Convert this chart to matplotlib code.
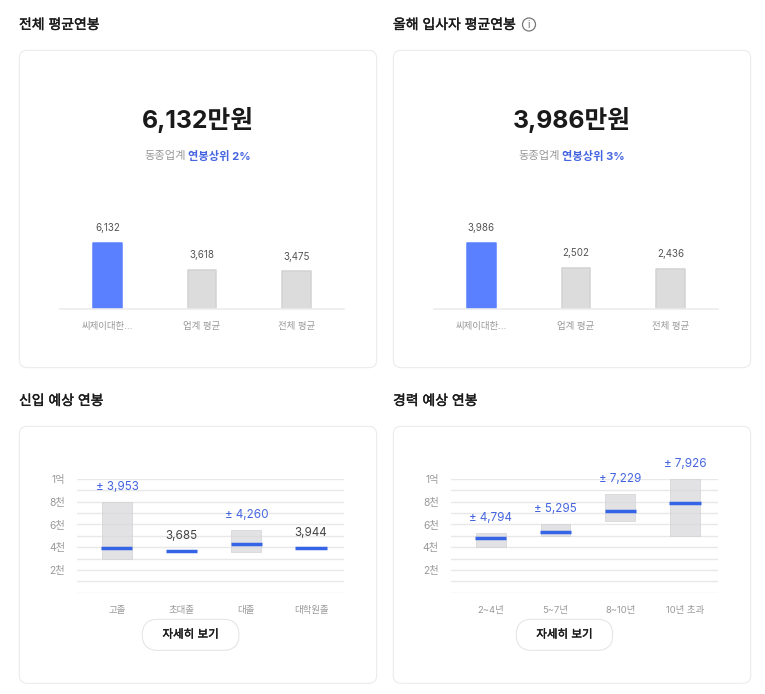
import matplotlib
matplotlib.use("Agg")
import matplotlib.pyplot as plt
import matplotlib.patheffects as pe
from matplotlib.patches import FancyBboxPatch, Circle

plt.rcParams['font.family'] = ['Inter', 'Noto Sans CJK KR', 'DejaVu Sans']

W, H = 765, 694

# ---- data ----
bar_labels_a = ['씨제이대한...', '업계 평균', '전체 평균']
bar_values_a = [6132, 3618, 3475]
bar_values_b = [3986, 2502, 2436]

new_labels = ['고졸', '초대졸', '대졸', '대학원졸']
new_mid = [3953, 3685, 4260, 3944]
new_low = [3000, 3685, 3600, 3944]
new_high = [8000, 3685, 5500, 3944]

exp_labels = ['2~4년', '5~7년', '8~10년', '10년 초과']
exp_mid = [4794, 5295, 7229, 7926]
exp_low = [4000, 5000, 6270, 5000]
exp_high = [5280, 6000, 8700, 10000]

grid_ticks = [0, 1000, 2000, 3000, 4000, 5000, 6000, 7000, 8000, 9000, 10000]
grid_labels = ['', '', '2천', '', '4천', '', '6천', '', '8천', '', '1억']

BLUE_TXT = '#4565e0'
BLUE_LINE = '#3565e6'
BLUE_BAR = '#5a80ff'
GRAY_TXT = '#999999'
GRID = '#e8e8e8'
INK = '#1a1a1a'

fig = plt.figure(figsize=(W / 100, H / 100), dpi=100, facecolor='white')

bg = fig.add_axes([0, 0, 1, 1])
bg.set_xlim(0, W)
bg.set_ylim(H, 0)
bg.axis('off')

semi_bold = [pe.withStroke(linewidth=0.3, foreground=INK)]


def px_axes(x0, y0, x1, y1):
    ax = fig.add_axes([x0 / W, 1 - y1 / H, (x1 - x0) / W, (y1 - y0) / H])
    ax.patch.set_alpha(0)
    for s in ax.spines.values():
        s.set_visible(False)
    return ax


def card(x0, y0, x1, y1):
    bg.add_patch(FancyBboxPatch((x0 + 8, y0 + 8), x1 - x0 - 16, y1 - y0 - 16,
                                boxstyle='round,pad=8,rounding_size=8',
                                fc='white', ec='#e9e9e9', lw=0.72))


def button(x0, y0, x1, y1):
    r = (y1 - y0) / 2
    bg.add_patch(FancyBboxPatch((x0 + r, y0 + r), x1 - x0 - 2 * r, 0.01,
                                boxstyle=f'round,pad={r},rounding_size={r}',
                                fc='white', ec='#e3e3e3', lw=0.72))
    bg.text((x0 + x1) / 2, (y0 + y1) / 2, '자세히 보기', ha='center', va='center',
            fontsize=8.3, color=INK, path_effects=semi_bold)


def bar_panel(x0, x1, values, labels, ymax):
    base, top = 309, 225
    ax = px_axes(x0, top, x1, base)
    cols = [BLUE_BAR] + ['#dcdcdc'] * (len(values) - 1)
    edges = [BLUE_BAR] + ['#d2d2d2'] * (len(values) - 1)
    ax.bar(range(len(values)), values, width=0.305, color=cols,
           edgecolor=edges, linewidth=1.1, joinstyle='round')
    ax.set_xlim(-0.5, 2.5)
    ax.set_ylim(0, ymax)
    ax.set_yticks([])
    ax.set_xticks(range(len(values)), labels, fontsize=6.8, color=GRAY_TXT)
    ax.tick_params(axis='x', length=0, pad=9.5)
    ax.spines['bottom'].set_visible(True)
    ax.spines['bottom'].set_color('#ececec')
    ax.spines['bottom'].set_linewidth(1.2)
    for i, v in enumerate(values):
        ax.annotate(f'{v:,}', (i, v), xytext=(0, 10.7), textcoords='offset points',
                    ha='center', va='center', fontsize=7, color='#555555',
                    annotation_clip=False)


def range_panel(x0, x1, labels, mid, low, high, xlim):
    ax = px_axes(x0, 479, x1, 592.7)
    ax.set_xlim(*xlim)
    ax.set_ylim(0, 10000)
    ax.set_yticks(grid_ticks, grid_labels, fontsize=7.4, color=GRAY_TXT)
    ax.set_xticks(range(len(labels)), labels, fontsize=6.8, color=GRAY_TXT)
    ax.tick_params(axis='both', length=0)
    ax.tick_params(axis='x', pad=9.5)
    ax.tick_params(axis='y', pad=8.5)
    ax.grid(axis='y', color=GRID, lw=1)
    ax.set_axisbelow(True)
    for s in ax.spines.values():
        s.set_visible(False)
    xs = list(range(len(labels)))
    ax.bar(xs, [h - l for h, l in zip(high, low)], bottom=low, width=0.46,
           color='#d9d9dc', alpha=0.75, edgecolor='#d4d4d6', linewidth=0.7, zorder=2)
    ax.hlines(mid, [x - 0.24 for x in xs], [x + 0.24 for x in xs],
              color=BLUE_LINE, lw=2.5, zorder=3)
    for i, m in enumerate(mid):
        has_range = high[i] > low[i]
        txt = f'± {m:,}' if has_range else f'{m:,}'
        ax.annotate(txt, (i, max(high[i], m)), xytext=(0, 10.8),
                    textcoords='offset points', ha='center', va='center',
                    fontsize=8.4, color=BLUE_TXT if has_range else '#444444',
                    annotation_clip=False)


# cards
card(19.3, 50.3, 376.7, 367.7)
card(393.3, 50.3, 750.7, 367.7)
card(19.3, 426.3, 376.7, 683.3)
card(393.3, 426.3, 750.7, 683.3)

# section titles
title_kw = dict(fontsize=10, color=INK, va='center', ha='left', path_effects=semi_bold)
bg.text(19, 25, '전체 평균연봉', **title_kw)
bg.text(393, 25, '올해 입사자 평균연봉', **title_kw)
bg.text(19, 401, '신입 예상 연봉', **title_kw)
bg.text(393, 401, '경력 예상 연봉', **title_kw)

# info icon
bg.add_patch(Circle((529, 24.5), 6.5, fc='white', ec='#777777', lw=0.9))
bg.text(529, 24.7, 'i', fontsize=7, color='#666666', ha='center', va='center')

# headline numbers
for cx, value, pct in [(197.5, bar_values_a[0], '2%'), (571.5, bar_values_b[0], '3%')]:
    bg.text(cx, 120, f'{value:,}만원', fontsize=17.8, fontweight='bold', color=INK,
            ha='center', va='center')
    bg.text(cx - 12, 156, '동종업계', fontsize=8.1, color=GRAY_TXT, ha='right', va='center')
    bg.text(cx - 9.5, 156, f'연봉상위 {pct}', fontsize=8.1, color=BLUE_TXT,
            ha='left', va='center', fontweight='bold')

bar_panel(60, 344, bar_values_a, bar_labels_a, 84 / 0.0108)
bar_panel(434, 718, bar_values_b, bar_labels_a, 84 / 0.0165)

range_panel(77, 344, new_labels, new_mid, new_low, new_high, (-0.618, 3.51))
range_panel(450.7, 718, exp_labels, exp_mid, exp_low, exp_high, (-0.618, 3.51))

button(142.3, 619.3, 239, 650.3)
button(516.3, 619.3, 612.7, 650.3)

fig.savefig('out.png', dpi=100, facecolor='white')
